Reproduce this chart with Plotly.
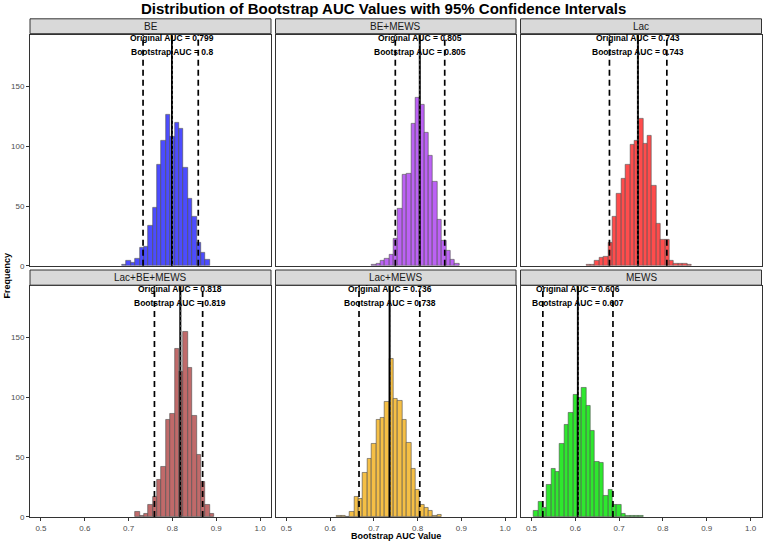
import plotly.graph_objects as go

W, H = 767, 547

# ---------------- data ----------------
panels = ["BE", "BE+MEWS", "Lac", "Lac+BE+MEWS", "Lac+MEWS", "MEWS"]
colors = ["#4C4CFF", "#BC62F5", "#FF4C4C", "#C06A6A", "#F5BF45", "#2EE82E"]

# first bin centre for each panel (bin width 0.01)
first_bin = [0.69, 0.70, 0.63, 0.72, 0.62, 0.51]

be_counts = [1, 4, 3, 6, 15, 16, 34, 49, 85, 105, 126, 108, 120, 115, 82, 56, 41, 19, 11, 5]
be_mews_counts = [1, 2, 4, 6, 9, 23, 48, 76, 77, 119, 141, 135, 111, 92, 70, 39, 21, 13, 5, 2]
lac_counts = [1, 1, 4, 7, 8, 19, 41, 60, 73, 85, 101, 105, 123, 102, 109, 67, 35, 22, 22, 4, 2, 2, 2, 1]
lac_be_mews_counts = [4, 1, 3, 10, 17, 31, 42, 81, 86, 141, 121, 155, 125, 85, 52, 29, 10, 3]
lac_mews_counts = [1, 1, 0, 4, 17, 15, 37, 49, 61, 81, 83, 96, 132, 99, 97, 81, 62, 40, 23, 10, 8, 5, 1, 2]
mews_counts = [5, 13, 8, 27, 40, 38, 61, 77, 87, 102, 100, 108, 93, 72, 46, 45, 18, 23, 10, 10, 3, 1, 1, 1, 1]
counts = [be_counts, be_mews_counts, lac_counts, lac_be_mews_counts, lac_mews_counts, mews_counts]

original_auc = [0.799, 0.805, 0.743, 0.818, 0.736, 0.606]
bootstrap_auc = [0.8, 0.805, 0.743, 0.819, 0.738, 0.607]
ci_lower = [0.733, 0.749, 0.678, 0.759, 0.666, 0.526]
ci_upper = [0.859, 0.862, 0.809, 0.869, 0.805, 0.686]

x_ticks = [0.5, 0.6, 0.7, 0.8, 0.9, 1.0]
x_tick_labels = ["0.5", "0.6", "0.7", "0.8", "0.9", "1.0"]
y_ticks = [0, 50, 100, 150]

# ---------------- layout geometry (pixels) ----------------
col_px = [(30, 271), (275.5, 516), (520.5, 761.5)]
row_px = [(35, 268.3), (288.4, 521.7)]
strip_px = [(19, 34), (272.5, 287.8)]
FONT = "Liberation Sans, Arial"


def px_x(v):
    return v / W


def px_y(v):
    return 1 - v / H


fig = go.Figure()

for i, name in enumerate(panels):
    r, c = divmod(i, 3)
    idx = "" if i == 0 else str(i + 1)
    xa, ya = "x" + idx, "y" + idx
    centers = [round(first_bin[i] + 0.01 * k, 2) for k in range(len(counts[i]))]
    fig.add_trace(go.Bar(
        x=centers, y=counts[i], width=0.01, xaxis=xa, yaxis=ya,
        marker=dict(color=colors[i], line=dict(color="#4D4D4D", width=0.6)),
        showlegend=False, hoverinfo="x+y",
    ))
    x0, x1 = col_px[c]
    y0, y1 = row_px[r]
    fig.layout["xaxis" + idx] = dict(
        domain=[px_x(x0), px_x(x1)], anchor=ya, range=[0.475, 1.025],
        showgrid=False, zeroline=False, showline=True, mirror=True,
        linecolor="#333333", linewidth=1,
        tickvals=x_ticks, ticktext=x_tick_labels,
        showticklabels=(r == 1), ticks="outside" if r == 1 else "",
        ticklen=3, tickcolor="#333333", tickfont=dict(size=8, color="#4D4D4D"),
    )
    fig.layout["yaxis" + idx] = dict(
        domain=[px_y(y1), px_y(y0)], anchor=xa, range=[0, 193.3],
        showgrid=False, zeroline=False, showline=True, mirror=True,
        linecolor="#333333", linewidth=1,
        tickvals=y_ticks, showticklabels=(c == 0),
        ticks="outside" if c == 0 else "", ticklen=3, tickcolor="#333333",
        tickfont=dict(size=8, color="#4D4D4D"),
    )
    # vertical lines
    for v, dash, w in [(ci_lower[i], "6px,4px", 1.7), (ci_upper[i], "6px,4px", 1.7),
                       (original_auc[i], "solid", 2.0), (bootstrap_auc[i], "2px,3px", 1.0)]:
        fig.add_shape(type="line", xref=xa, yref=ya + " domain", x0=v, x1=v, y0=0, y1=1,
                      line=dict(color="black" if dash != "2px,3px" else "#555555",
                                width=w, dash=dash))
    # annotations
    fig.add_annotation(x=original_auc[i], y=190.8, xref=xa, yref=ya,
                       text="<b>Original AUC = %s</b>" % original_auc[i], showarrow=False,
                       font=dict(size=8.5, color="black", family=FONT),
                       xanchor="center", yanchor="middle")
    fig.add_annotation(x=original_auc[i], y=179.2, xref=xa, yref=ya,
                       text="<b>Bootstrap AUC = %s</b>" % bootstrap_auc[i], showarrow=False,
                       font=dict(size=8.5, color="black", family=FONT),
                       xanchor="center", yanchor="middle")
    # strip
    s0, s1 = strip_px[r]
    fig.add_shape(type="rect", xref="paper", yref="paper",
                  x0=px_x(x0), x1=px_x(x1), y0=px_y(s1), y1=px_y(s0),
                  fillcolor="#D9D9D9", line=dict(color="#333333", width=1), layer="above")
    fig.add_annotation(x=px_x((x0 + x1) / 2), y=px_y((s0 + s1) / 2), xref="paper", yref="paper",
                       text=name, showarrow=False, xanchor="center", yanchor="middle",
                       font=dict(size=10, color="#1A1A1A", family=FONT))

# title and axis titles
fig.add_annotation(x=px_x(383.5), y=px_y(9), xref="paper", yref="paper",
                   text="<b>Distribution of Bootstrap AUC Values with 95% Confidence Intervals</b>",
                   showarrow=False, xanchor="center", yanchor="middle",
                   font=dict(size=15, color="black", family=FONT))
fig.add_annotation(x=px_x(396), y=px_y(541), xref="paper", yref="paper",
                   text="<b>Bootstrap AUC Value</b>", showarrow=False,
                   xanchor="center", yanchor="middle",
                   font=dict(size=9, color="black", family=FONT))
fig.add_annotation(x=px_x(7), y=px_y(278), xref="paper", yref="paper",
                   text="<b>Frequency</b>", showarrow=False, textangle=-90,
                   xanchor="center", yanchor="middle",
                   font=dict(size=9, color="black", family=FONT))

fig.update_layout(
    width=W, height=H, margin=dict(l=0, r=0, t=0, b=0),
    paper_bgcolor="white", plot_bgcolor="white", bargap=0,
    font=dict(family=FONT),
)

fig.write_html("out.html")
